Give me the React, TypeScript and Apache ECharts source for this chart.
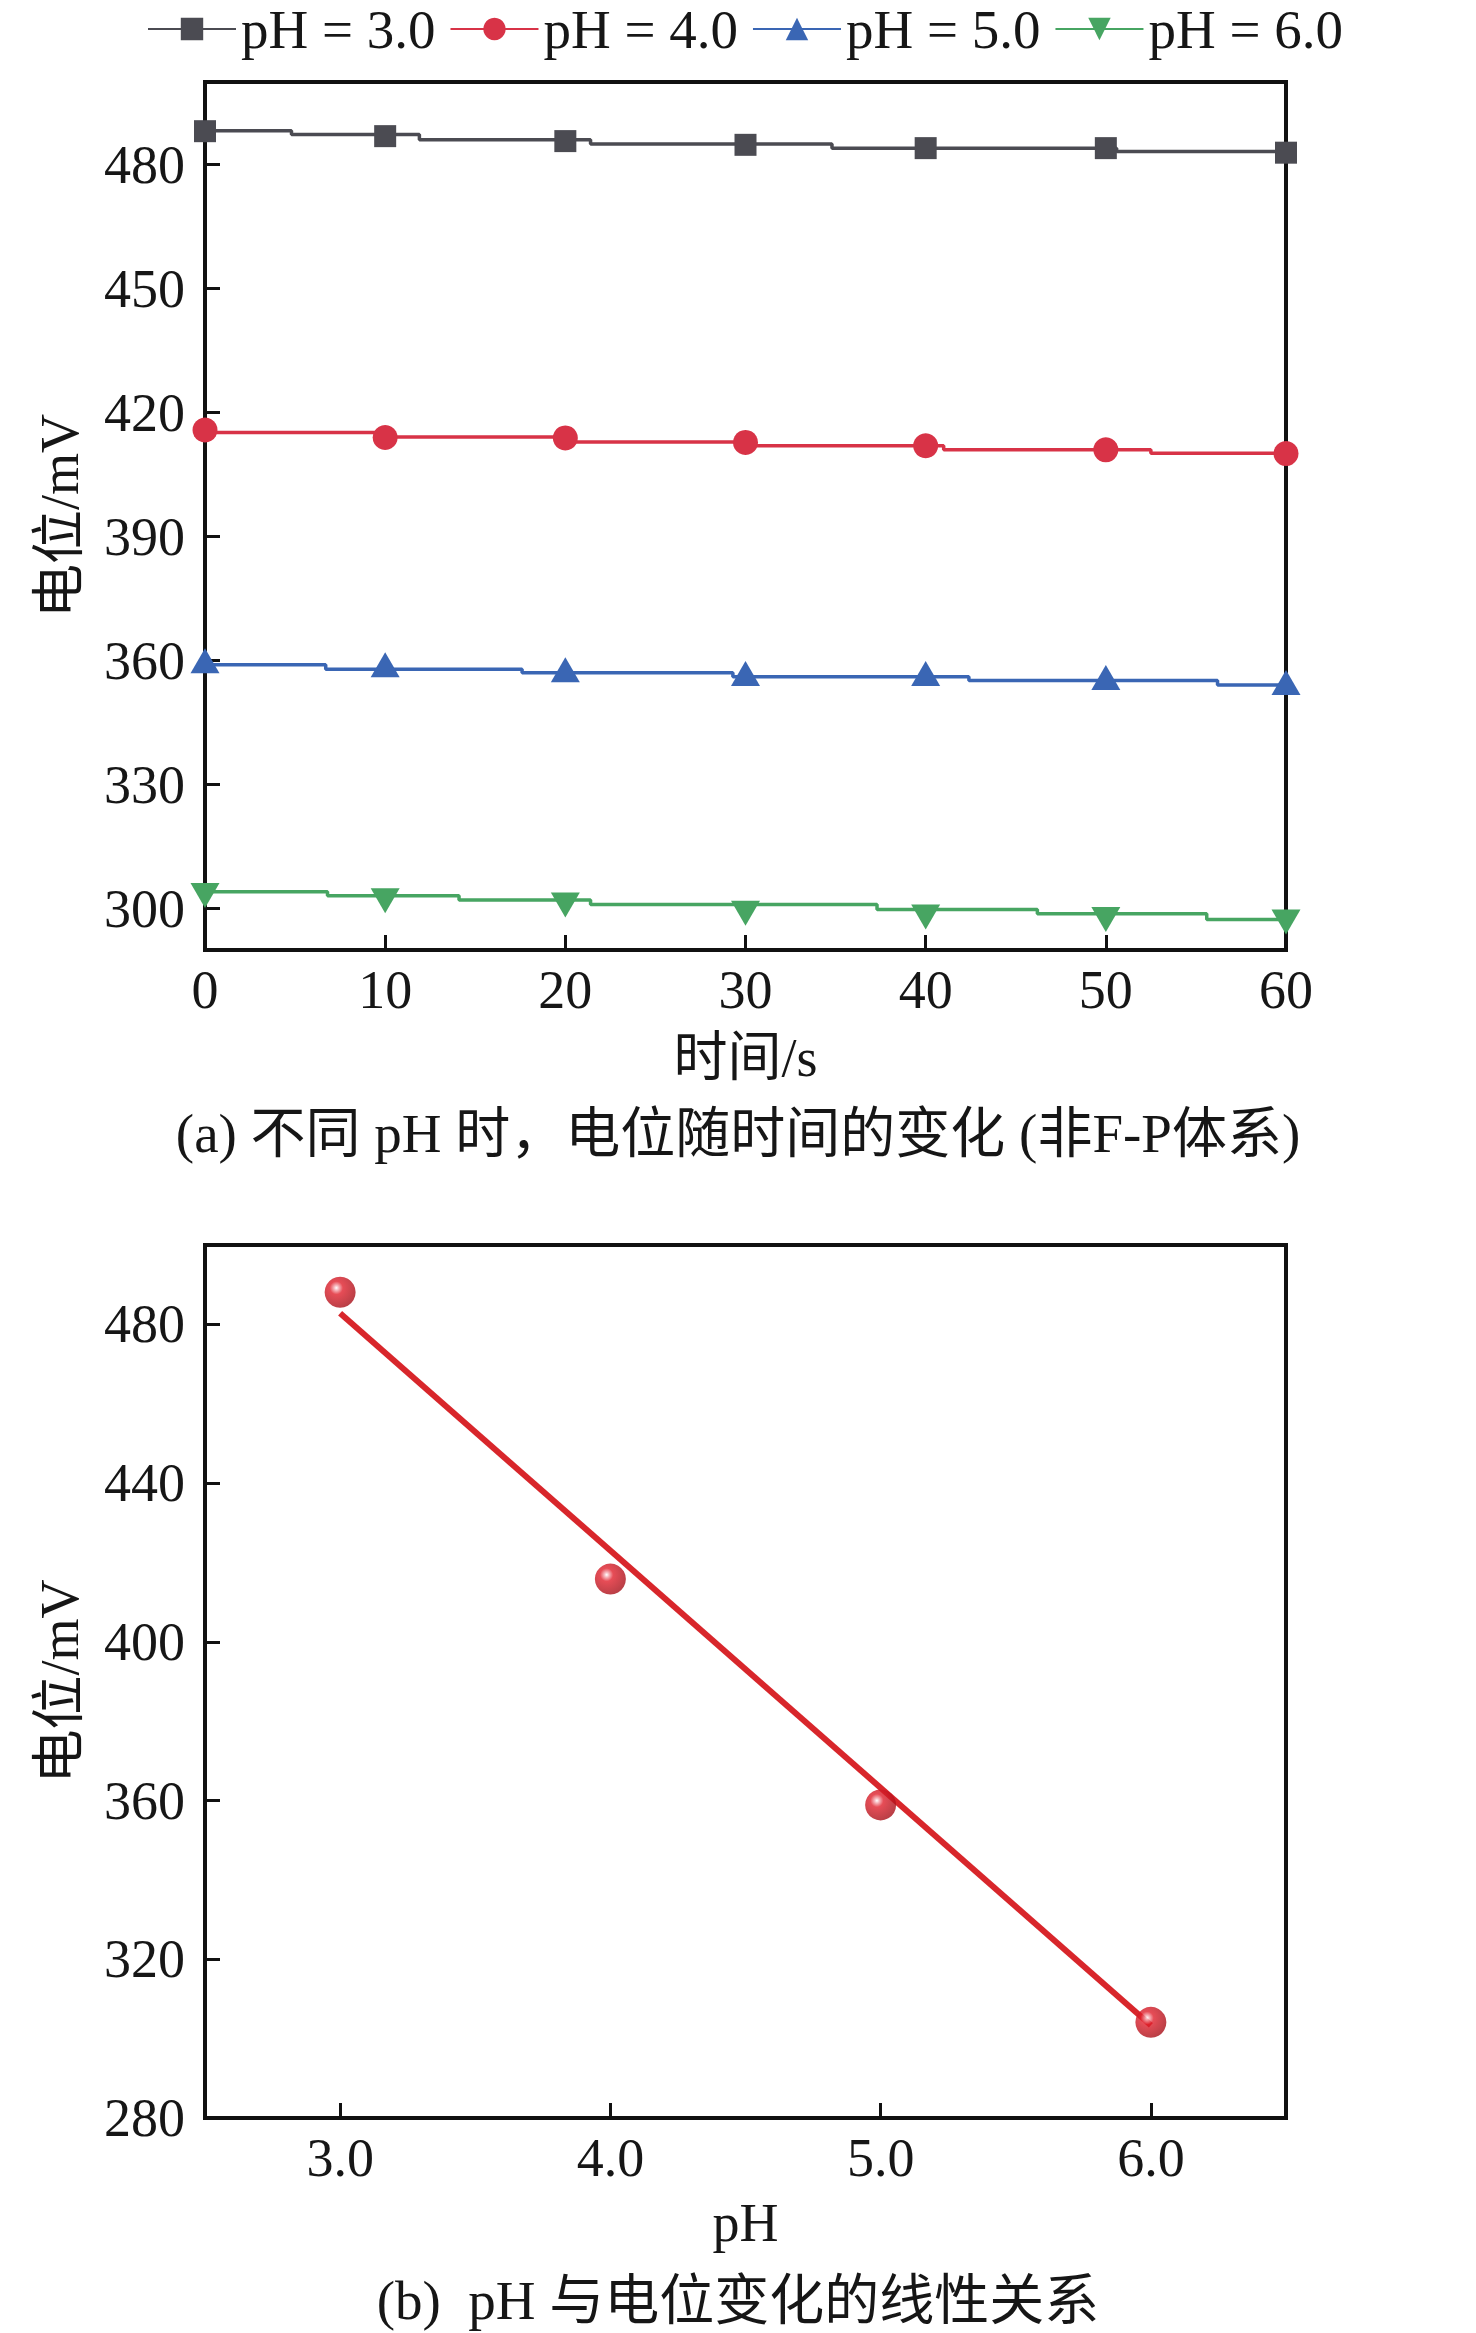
import React, { useEffect, useRef } from "react";
import * as echarts from "echarts";

const FONT = '"Liberation Serif", "Times New Roman", "Noto Sans CJK SC", serif';
const TEXT_COLOR = "#161616";

// ---------- Chart (a): potential vs time ----------
const seriesNames = ["pH = 3.0", "pH = 4.0", "pH = 5.0", "pH = 6.0"];
const seriesColors = ["#4b4b52", "#d83347", "#3a66b4", "#47a562"];
const timePoints = [0, 10, 20, 30, 40, 50, 60];
const timeTicks = [0, 10, 20, 30, 40, 50, 60];
const potentialTicksA = [300, 330, 360, 390, 420, 450, 480];

const markersPH3 = [488.1, 486.9, 485.7, 484.8, 484.0, 484.0, 482.9];
const markersPH4 = [415.8, 414.0, 413.9, 412.8, 412.0, 411.0, 410.1];
const markersPH5 = [360.0, 359.0, 357.8, 356.9, 356.9, 355.9, 354.7];
const markersPH6 = [303.2, 301.9, 300.9, 298.9, 298.0, 297.4, 296.8];

// step-line traces: times at which the level changes, and the successive levels
const stepTimesPH3 = [4.8, 11.9, 21.4, 34.8, 50.6];
const stepLevelsPH3 = [488.2, 487.3, 486.0, 485.0, 484.0, 483.2];
const stepTimesPH4 = [10.1, 20.4, 30.1, 41.0, 52.5];
const stepLevelsPH4 = [415.2, 414.1, 412.9, 412.0, 411.0, 410.2];
const stepTimesPH5 = [6.7, 17.6, 29.3, 42.4, 56.2];
const stepLevelsPH5 = [359.0, 357.9, 357.1, 356.1, 355.2, 354.1];
const stepTimesPH6 = [6.8, 14.1, 21.4, 37.3, 46.2, 55.6];
const stepLevelsPH6 = [304.1, 303.1, 302.1, 301.0, 299.8, 298.8, 297.4];

// ---------- Chart (b): potential vs pH ----------
const phValues = [3.0, 4.0, 5.0, 6.0];
const phPotentials = [488.1, 415.8, 358.9, 304.1];
const phTicks = [3.0, 4.0, 5.0, 6.0];
const potentialTicksB = [280, 320, 360, 400, 440, 480];
const fitLinePH = [3.0, 6.0];
const fitLinePotential = [482.8, 303.4];

const captionA = "(a) 不同 pH 时，电位随时间的变化 (非F-P体系)";
const captionB = "(b)  pH 与电位变化的线性关系";

const markerList = [markersPH3, markersPH4, markersPH5, markersPH6];
const stepTimesList = [stepTimesPH3, stepTimesPH4, stepTimesPH5, stepTimesPH6];
const stepLevelsList = [stepLevelsPH3, stepLevelsPH4, stepLevelsPH5, stepLevelsPH6];
const symbols = ["rect", "circle", "triangle", "triangle"];
const symbolRotates = [0, 0, 0, 180];
const symbolSizes: any[] = [22, 25, [29, 25], [29, 25]];

function buildStep(times: number[], levels: number[]) {
  const pts: number[][] = [[timePoints[0], levels[0]]];
  times.forEach((t, i) => pts.push([t, levels[i + 1]]));
  pts.push([timePoints[timePoints.length - 1], levels[levels.length - 1]]);
  return pts;
}

const axisLineStyle = { show: true, onZero: false, lineStyle: { color: "#111", width: 4 } };
const axisTickStyle = (vals: number[]) => ({
  show: true,
  inside: true,
  length: 15,
  customValues: vals,
  lineStyle: { color: "#111", width: 3 },
});
const labelStyle = {
  fontSize: 54,
  fontFamily: FONT,
  color: TEXT_COLOR,
};
const nameStyle = { fontSize: 54, fontFamily: FONT, color: TEXT_COLOR };

function buildOption() {
  const stepSeries = seriesNames.map((name, i) => ({
    type: "line",
    name,
    xAxisIndex: 0,
    yAxisIndex: 0,
    data: buildStep(stepTimesList[i], stepLevelsList[i]),
    step: "end",
    symbol: symbols[i],
    symbolRotate: symbolRotates[i],
    showSymbol: false,
    color: seriesColors[i],
    lineStyle: { color: seriesColors[i], width: 3.5 },
    itemStyle: { color: seriesColors[i] },
    z: 2,
  }));
  const markerSeries = seriesNames.map((name, i) => ({
    type: "scatter",
    name,
    xAxisIndex: 0,
    yAxisIndex: 0,
    data: timePoints.map((t, j) => [t, markerList[i][j]]),
    symbol: symbols[i],
    symbolRotate: symbolRotates[i],
    symbolSize: symbolSizes[i],
    itemStyle: { color: seriesColors[i], opacity: 1 },
    clip: false,
    z: 3,
  }));

  return {
    animation: false,
    backgroundColor: "#ffffff",
    legend: {
      data: seriesNames,
      left: 147,
      top: 0,
      padding: 0,
      itemWidth: 88,
      itemHeight: 28,
      itemGap: 14,
      selectedMode: false,
      textStyle: { fontSize: 55, lineHeight: 58, fontFamily: FONT, color: TEXT_COLOR },
    },
    grid: [
      { left: 205, top: 82, width: 1081, height: 868, show: true, borderColor: "#111", borderWidth: 4 },
      { left: 205, top: 1245, width: 1081, height: 873, show: true, borderColor: "#111", borderWidth: 4 },
    ],
    xAxis: [
      {
        type: "value",
        gridIndex: 0,
        min: 0,
        max: 60,
        interval: 10,
        name: "时间/s",
        nameLocation: "middle",
        nameGap: 81,
        nameTextStyle: nameStyle,
        axisLine: axisLineStyle,
        axisTick: axisTickStyle(timeTicks),
        axisLabel: { ...labelStyle, margin: 13, customValues: timeTicks },
        splitLine: { show: false },
      },
      {
        type: "value",
        gridIndex: 1,
        min: 2.5,
        max: 6.5,
        name: "pH",
        nameLocation: "middle",
        nameGap: 78,
        nameTextStyle: nameStyle,
        axisLine: axisLineStyle,
        axisTick: axisTickStyle(phTicks),
        axisLabel: {
          ...labelStyle,
          margin: 13,
          customValues: phTicks,
          formatter: (v: number) => v.toFixed(1),
        },
        splitLine: { show: false },
      },
    ],
    yAxis: [
      {
        type: "value",
        gridIndex: 0,
        min: 290,
        max: 500,
        name: "电位/mV",
        nameLocation: "middle",
        nameGap: 118,
        nameRotate: 90,
        nameTextStyle: nameStyle,
        axisLine: axisLineStyle,
        axisTick: axisTickStyle(potentialTicksA),
        axisLabel: { ...labelStyle, margin: 20, customValues: potentialTicksA },
        splitLine: { show: false },
      },
      {
        type: "value",
        gridIndex: 1,
        min: 280,
        max: 500,
        name: "电位/mV",
        nameLocation: "middle",
        nameGap: 118,
        nameRotate: 90,
        nameTextStyle: nameStyle,
        axisLine: axisLineStyle,
        axisTick: axisTickStyle(potentialTicksB),
        axisLabel: { ...labelStyle, margin: 20, customValues: potentialTicksB },
        splitLine: { show: false },
      },
    ],
    graphic: [
      {
        type: "text",
        x: 738,
        y: 1133,
        style: {
          text: captionA,
          fontSize: 55,
          fontFamily: FONT,
          fill: TEXT_COLOR,
          align: "center",
          verticalAlign: "middle",
        },
      },
      {
        type: "text",
        x: 738,
        y: 2300,
        style: {
          text: captionB,
          fontSize: 55,
          fontFamily: FONT,
          fill: TEXT_COLOR,
          align: "center",
          verticalAlign: "middle",
        },
      },
    ],
    series: [
      ...stepSeries,
      ...markerSeries,
      {
        type: "line",
        name: "fit",
        xAxisIndex: 1,
        yAxisIndex: 1,
        data: fitLinePH.map((x, i) => [x, fitLinePotential[i]]),
        symbol: "none",
        lineStyle: { color: "#d8262b", width: 6 },
        z: 2,
      },
      {
        type: "scatter",
        name: "points",
        xAxisIndex: 1,
        yAxisIndex: 1,
        data: phValues.map((x, i) => [x, phPotentials[i]]),
        symbol: "circle",
        symbolSize: 31,
        clip: false,
        itemStyle: {
          color: {
            type: "radial",
            x: 0.38,
            y: 0.36,
            r: 0.66,
            colorStops: [
              { offset: 0, color: "#ffffff" },
              { offset: 0.12, color: "#f3a3aa" },
              { offset: 0.32, color: "#e0202c" },
              { offset: 1, color: "#a80f18" },
            ],
          },
        },
        z: 3,
      },
    ],
  };
}

export default function App() {
  const ref = useRef<HTMLDivElement>(null);
  useEffect(() => {
    document.body.style.margin = "0";
    const chart = echarts.init(ref.current as HTMLDivElement, null, { renderer: "svg" });
    chart.setOption(buildOption() as any);
    return () => chart.dispose();
  }, []);
  return (
    <div
      ref={ref}
      style={{ position: "absolute", left: 0, top: 0, width: 1476, height: 2333, background: "#ffffff" }}
    />
  );
}
